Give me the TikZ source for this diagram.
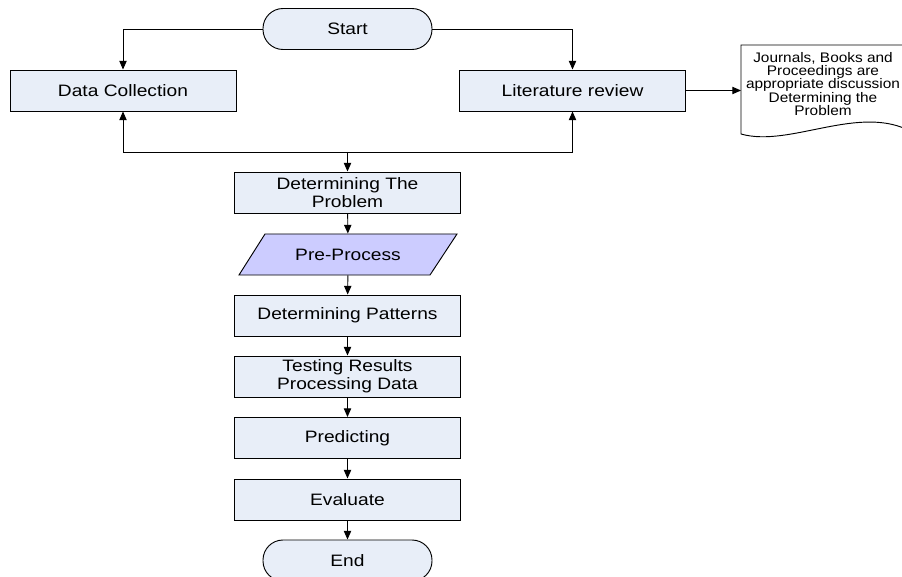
\documentclass[tikz,border=0pt]{standalone}
\usepackage{fontspec}
\usepackage{xcolor}
\usepackage{tikz}
\usetikzlibrary{arrows.meta}
\newfontfamily\flowfont{Liberation Sans}[FakeStretch=1.16]
\newfontfamily\docfont{Liberation Sans}[FakeStretch=1.11]
\definecolor{boxfill}{RGB}{232,238,248}
\definecolor{lavfill}{RGB}{204,204,255}
\tikzset{
  stepbox/.style={draw, fill=boxfill, line width=0.7pt, minimum width=169.5pt, minimum height=30.75pt, inner sep=0pt, align=center, font=\flowfont\fontsize{12.4}{13.4}\selectfont},
  termbox/.style={stepbox, rounded corners=15pt, minimum width=126.75pt},
  flow/.style={line width=0.7pt, -{Triangle[length=6.5pt,width=5.5pt]}},
}
\begin{document}
\begin{tikzpicture}[x=0.75pt,y=0.75pt,yscale=-1,xscale=1]
        \clip (0,0) rectangle (902,577);
        \fill[white] (0,0) rectangle (902,577);

        \node[termbox] (start) at (347.5,29) {Start};
        \node[stepbox] (dc) at (123,90.5) {Data Collection};
        \node[stepbox] (lr) at (572.5,90.5) {Literature review};
        \node[stepbox] (prob) at (347.5,192.5) {Determining The\\Problem};
        % pre-process parallelogram
        \draw[fill=lavfill, line width=0.7pt] (265,234) -- (457,234) -- (430,275) -- (239,275) -- cycle;
        \node[stepbox, draw=none, fill=none, minimum width=144pt] (pre) at (348,254.5) {Pre-Process};
        \node[stepbox] (pat) at (347.5,315.5) {Determining Patterns};
        \node[stepbox] (test) at (347.5,376.5) {Testing Results\\Processing Data};
        \node[stepbox] (pred) at (347.5,438) {Predicting};
        \node[stepbox] (eval) at (347.5,499.5) {Evaluate};
        \node[termbox] (end) at (347.5,560.5) {End};

        % document shape
        \draw[fill=white, line width=0.7pt] (741,45) -- (912,45) -- (912,132) .. controls (860,103) and (790,148) .. (741,134) -- cycle;
        \node[align=center, inner sep=0pt, font=\docfont\fontsize{10.4}{10}\selectfont] (doc) at (823,84) {Journals, Books and\\Proceedings are\\appropriate discussion\\Determining the\\Problem};
        \coordinate (docin) at (741,90.5);
        \coordinate (jn) at (347.5,152);

        \draw[flow] (start.west) -| (dc.north);
        \draw[flow] (start.east) -| (lr.north);
        \draw[flow] (jn) -| (dc.south);
        \draw[flow] (jn) -| (lr.south);
        \draw[flow] (jn) -- (prob.north);
        \draw[flow] (lr.east) -- (docin);
        \draw[flow] (prob) -- (pre);
        \draw[flow] (pre) -- (pat);
        \draw[flow] (pat) -- (test);
        \draw[flow] (test) -- (pred);
        \draw[flow] (pred) -- (eval);
        \draw[flow] (eval) -- (end);
    \end{tikzpicture}
\end{document}
